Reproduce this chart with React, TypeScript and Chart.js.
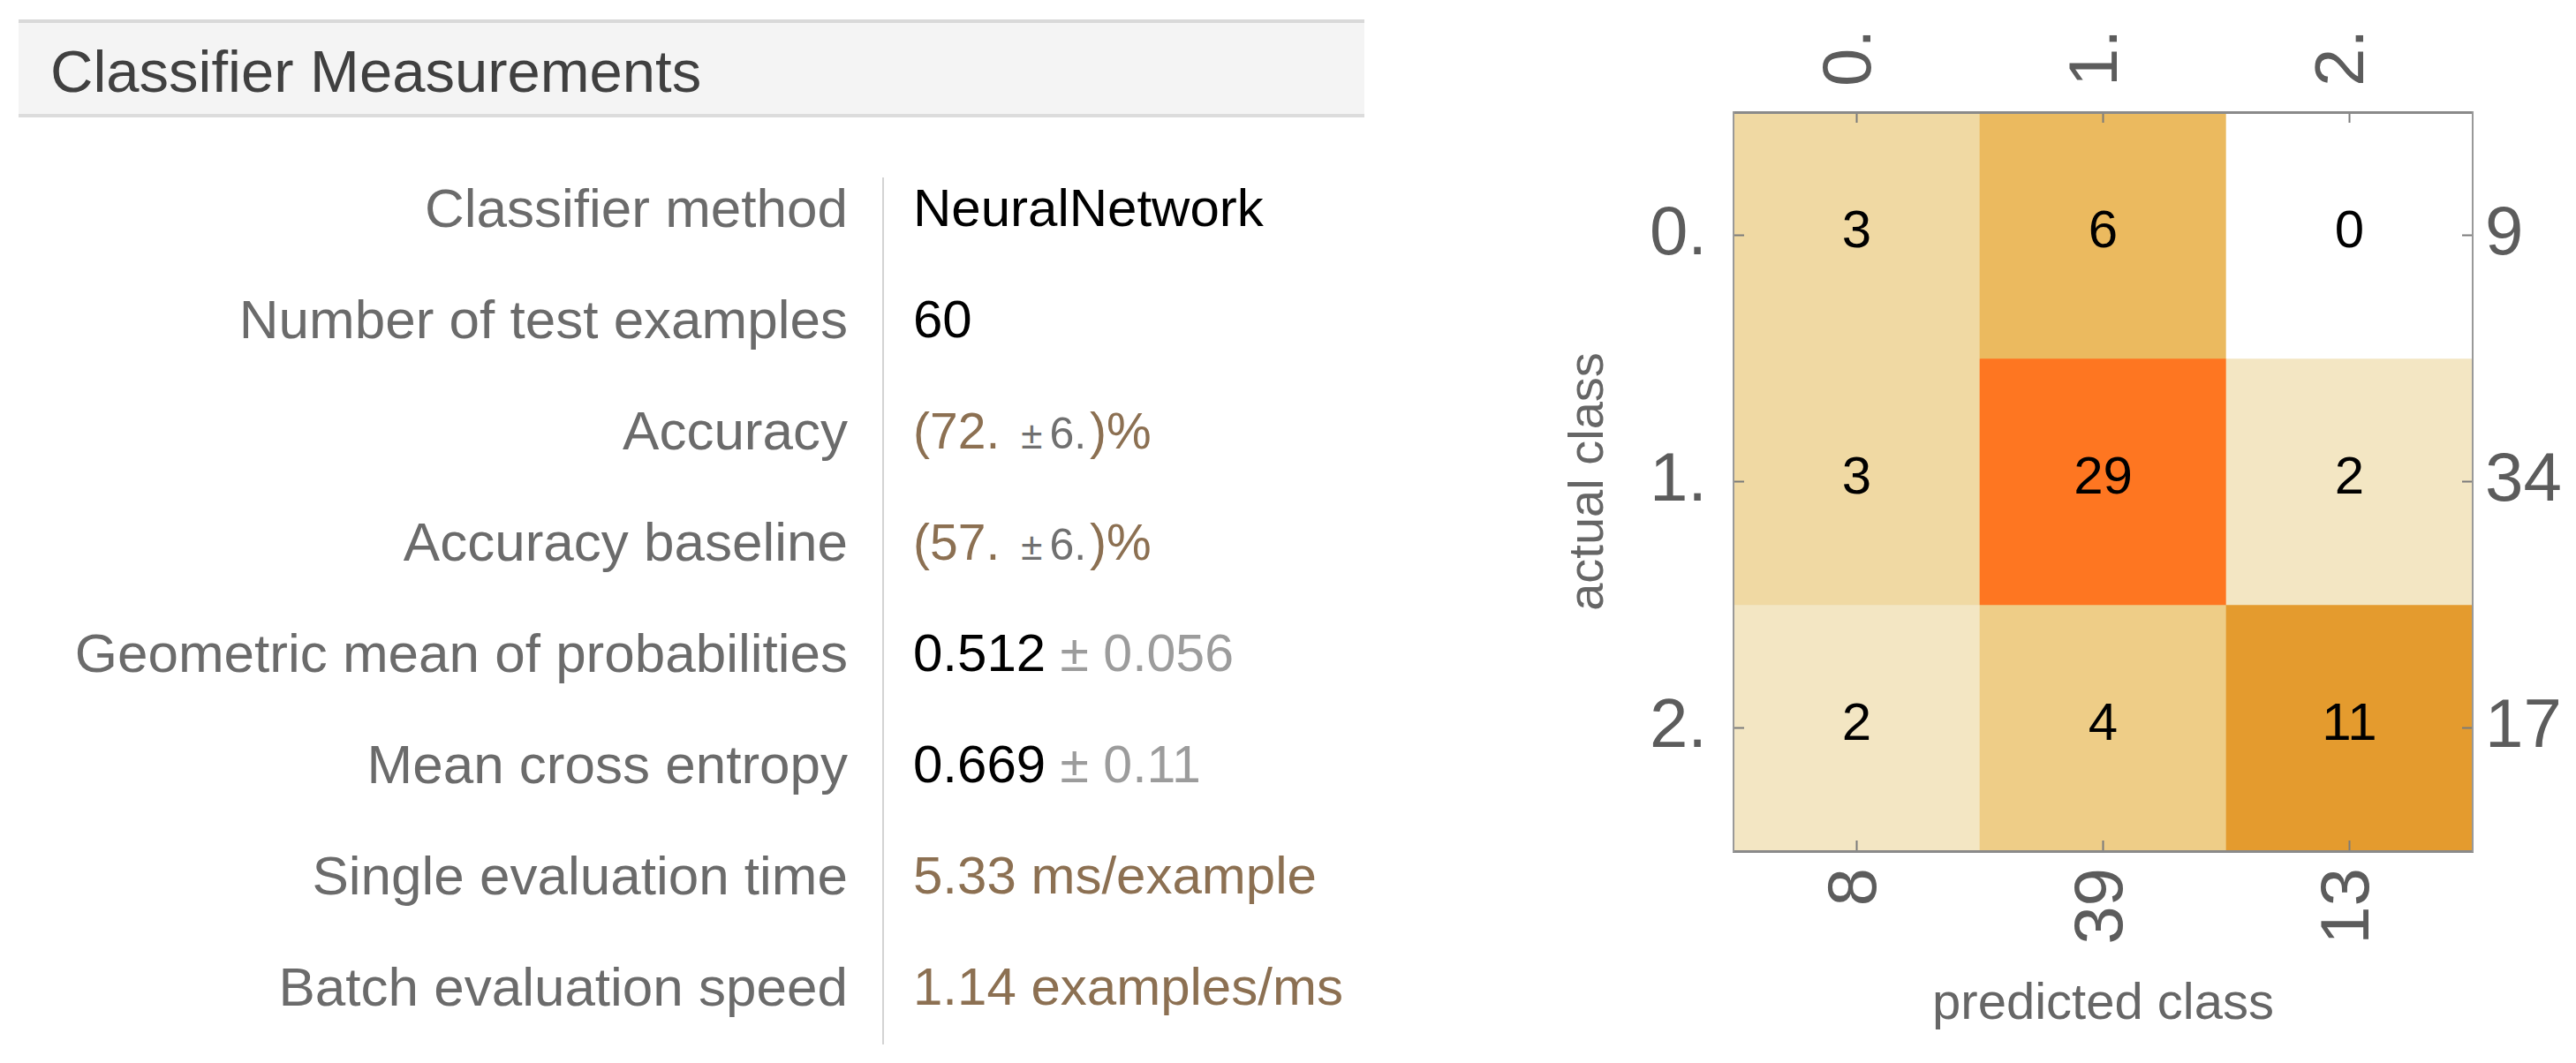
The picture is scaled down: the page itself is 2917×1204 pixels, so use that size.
import React, { useEffect, useRef } from 'react';
import { Chart, registerables } from 'chart.js';

Chart.register(...registerables);

// ---------------- data ----------------
const predictedClasses = ['0.', '1.', '2.'];
const actualClasses = ['0.', '1.', '2.'];
const confusionCounts = [
  [3, 6, 0],
  [3, 29, 2],
  [2, 4, 11],
];
const actualTotals = [9, 34, 17];
const predictedTotals = [8, 39, 13];

const measurementNames = [
  'Classifier method',
  'Number of test examples',
  'Accuracy',
  'Accuracy baseline',
  'Geometric mean of probabilities',
  'Mean cross entropy',
  'Single evaluation time',
  'Batch evaluation speed',
];
const classifierMethod = 'NeuralNetwork';
const testExamples = '60';
const accuracy = ['72.', '6.'];
const accuracyBaseline = ['57.', '6.'];
const geometricMean = ['0.512', '0.056'];
const crossEntropy = ['0.669', '0.11'];
const singleEvalTime = ['5.33', 'ms/example'];
const batchEvalSpeed = ['1.14', 'examples/ms'];

// ---------------- styles ----------------
const FONT = '"Liberation Sans", Arial, Helvetica, sans-serif';
const cellColors = [
  ['#f0d9a3', '#ebba5f', '#ffffff'],
  ['#f0d9a3', '#fe7621', '#f3e6c3'],
  ['#f3e6c3', '#eecd87', '#e49b2e'],
];
const BROWN = '#8c7052';
const LABEL_GRAY = '#6b6b6b';

const cellPlugin = {
  id: 'cellLabelsAndTicks',
  afterDatasetsDraw(chart: any) {
    const ctx = chart.ctx;
    const a = chart.chartArea;
    const s = chart.scales;
    ctx.save();
    ctx.font = `60px ${FONT}`;
    ctx.fillStyle = '#000';
    ctx.textAlign = 'center';
    ctx.textBaseline = 'middle';
    chart.data.datasets.forEach((_: any, r: number) => {
      const meta = chart.getDatasetMeta(r);
      meta.data.forEach((el: any, c: number) => {
        const p = el.getProps(['x', 'y', 'base'], true);
        ctx.fillText(String(confusionCounts[r][c]), p.x, (p.y + p.base) / 2 - 3);
      });
    });
    ctx.strokeStyle = '#7b7b7b';
    ctx.lineWidth = 2;
    const L = 12;
    const line = (x1: number, y1: number, x2: number, y2: number) => {
      ctx.beginPath();
      ctx.moveTo(x1, y1);
      ctx.lineTo(x2, y2);
      ctx.stroke();
    };
    s.x.ticks.forEach((_: any, i: number) => {
      const px = s.x.getPixelForTick(i);
      line(px, a.bottom, px, a.bottom - L);
    });
    s.x2.ticks.forEach((_: any, i: number) => {
      const px = s.x2.getPixelForTick(i);
      line(px, a.top, px, a.top + L);
    });
    s.yl.ticks.forEach((_: any, i: number) => {
      const py = s.yl.getPixelForTick(i);
      line(a.left, py, a.left + L, py);
    });
    s.yr.ticks.forEach((_: any, i: number) => {
      const py = s.yr.getPixelForTick(i);
      line(a.right, py, a.right - L, py);
    });
    ctx.restore();
  },
};

const TICK_SIZE = 78;
const tickFont = { family: FONT, size: TICK_SIZE };
const tickColor = '#5c5c5c';

function ConfusionMatrix() {
  const ref = useRef<HTMLCanvasElement>(null);
  useEffect(() => {
    const canvas = ref.current;
    if (!canvas) return;
    const datasets = actualClasses.map((name, r) => ({
      label: name,
      data: confusionCounts[r].map(() => [r, r + 1]),
      backgroundColor: cellColors[r],
      borderWidth: 0,
      barPercentage: 1,
      categoryPercentage: 1,
      grouped: false,
      xAxisID: 'x',
      yAxisID: 'yv',
    }));
    const chart = new Chart(canvas, {
      type: 'bar',
      data: { labels: predictedClasses, datasets } as any,
      plugins: [cellPlugin],
      options: {
        animation: false,
        responsive: false,
        devicePixelRatio: 1,
        layout: { padding: 0, autoPadding: false },
        plugins: { legend: { display: false }, tooltip: { enabled: false } },
        scales: {
          x: {
            type: 'category',
            axis: 'x',
            position: 'bottom',
            labels: predictedTotals.map(String),
            offset: true,
            grid: { display: false, drawTicks: false },
            border: { display: true, color: '#8a8a8a', width: 3, z: 1 },
            ticks: { minRotation: 90, maxRotation: 90, padding: 19, color: tickColor, font: tickFont, autoSkip: false },
            title: {
              display: true,
              text: 'predicted class',
              color: '#666666',
              font: { family: FONT, size: 58 },
              padding: { top: 0, bottom: 31 },
            },
            afterFit: (sc: any) => { sc.height = 240; },
          },
          x2: {
            type: 'category',
            axis: 'x',
            position: 'top',
            labels: predictedClasses,
            offset: true,
            grid: { display: false, drawTicks: false },
            border: { display: true, color: '#8a8a8a', width: 3, z: 1 },
            ticks: {
              minRotation: 90, maxRotation: 90, padding: 29, color: tickColor, font: tickFont, autoSkip: false,
              labelOffset: 88,
            },
            afterFit: (sc: any) => { sc.height = 127; },
          },
          yv: { type: 'linear', axis: 'y', min: 0, max: 3, reverse: true, display: false },
          yl: {
            type: 'category',
            axis: 'y',
            position: 'left',
            labels: actualClasses,
            offset: true,
            grid: { display: false, drawTicks: false },
            border: { display: true, color: '#999999', width: 2, z: 1 },
            ticks: { padding: 30, color: tickColor, font: tickFont, autoSkip: false },
            title: {
              display: true,
              text: 'actual class',
              color: '#666666',
              font: { family: FONT, size: 56 },
              padding: { top: 66, bottom: 0 },
            },
            afterFit: (sc: any) => { sc.width = 263; },
          },
          yr: {
            type: 'category',
            axis: 'y',
            position: 'right',
            labels: actualTotals.map(String),
            offset: true,
            grid: { display: false, drawTicks: false },
            border: { display: true, color: '#999999', width: 2, z: 1 },
            ticks: { padding: 14, color: tickColor, font: tickFont, autoSkip: false },
            afterFit: (sc: any) => { sc.width = 117; },
          },
        } as any,
      },
    });
    return () => chart.destroy();
  }, []);
  return (
    <canvas
      ref={ref}
      width={1217}
      height={1204}
      style={{ position: 'absolute', left: 1700, top: 0, width: 1217, height: 1204 }}
    />
  );
}

function Row({ i, children }: { i: number; children: React.ReactNode }) {
  const cy = 236 + 126 * i;
  return (
    <>
      <div
        style={{
          position: 'absolute', left: 0, width: 960, top: cy - 40, height: 80,
          display: 'flex', alignItems: 'center', justifyContent: 'flex-end',
          fontSize: 62, lineHeight: 1, color: LABEL_GRAY, whiteSpace: 'nowrap',
        }}
      >
        {measurementNames[i]}
      </div>
      <div
        style={{
          position: 'absolute', left: 1034, top: cy - 40, height: 80,
          display: 'flex', alignItems: 'center',
          fontSize: 60, lineHeight: 1, color: '#000', whiteSpace: 'pre',
        }}
      >
        <span>{children}</span>
      </div>
    </>
  );
}

function PlusMinusPercent({ v }: { v: string[] }) {
  return (
    <span style={{ color: BROWN, fontSize: 57 }}>
      {'(' + v[0]}
      <span style={{ color: '#707070', fontSize: 44, marginLeft: 24 }}>±</span>
      <span style={{ color: '#707070', fontSize: 50, marginLeft: 8, marginRight: 4 }}>{v[1]}</span>
      {')%'}
    </span>
  );
}

function PlusMinus({ v }: { v: string[] }) {
  return (
    <span>
      {v[0]}
      <span style={{ color: '#9c9c9c', fontSize: 59 }}>{' ± ' + v[1]}</span>
    </span>
  );
}

export default function App() {
  return (
    <div
      style={{
        position: 'fixed', left: 0, top: 0, width: 2917, height: 1204,
        background: '#ffffff', overflow: 'hidden', fontFamily: FONT,
      }}
    >
      <div
        style={{
          position: 'absolute', left: 21, top: 22, width: 1524, height: 103,
          background: '#f4f4f4', borderTop: '4px solid #d9d9d9', borderBottom: '4px solid #dcdcdc',
        }}
      />
      <div
        style={{
          position: 'absolute', left: 57, top: 80 - 40, height: 80,
          display: 'flex', alignItems: 'center',
          fontSize: 67, lineHeight: 1, color: '#404040', whiteSpace: 'nowrap',
        }}
      >
        Classifier Measurements
      </div>
      <div style={{ position: 'absolute', left: 999, top: 201, width: 2, height: 982, background: '#d3d3d3' }} />
      <Row i={0}>{classifierMethod}</Row>
      <Row i={1}>{testExamples}</Row>
      <Row i={2}><PlusMinusPercent v={accuracy} /></Row>
      <Row i={3}><PlusMinusPercent v={accuracyBaseline} /></Row>
      <Row i={4}><PlusMinus v={geometricMean} /></Row>
      <Row i={5}><PlusMinus v={crossEntropy} /></Row>
      <Row i={6}><span style={{ color: BROWN }}>{singleEvalTime[0] + ' ' + singleEvalTime[1]}</span></Row>
      <Row i={7}><span style={{ color: BROWN }}>{batchEvalSpeed[0] + ' ' + batchEvalSpeed[1]}</span></Row>
      <ConfusionMatrix />
    </div>
  );
}
